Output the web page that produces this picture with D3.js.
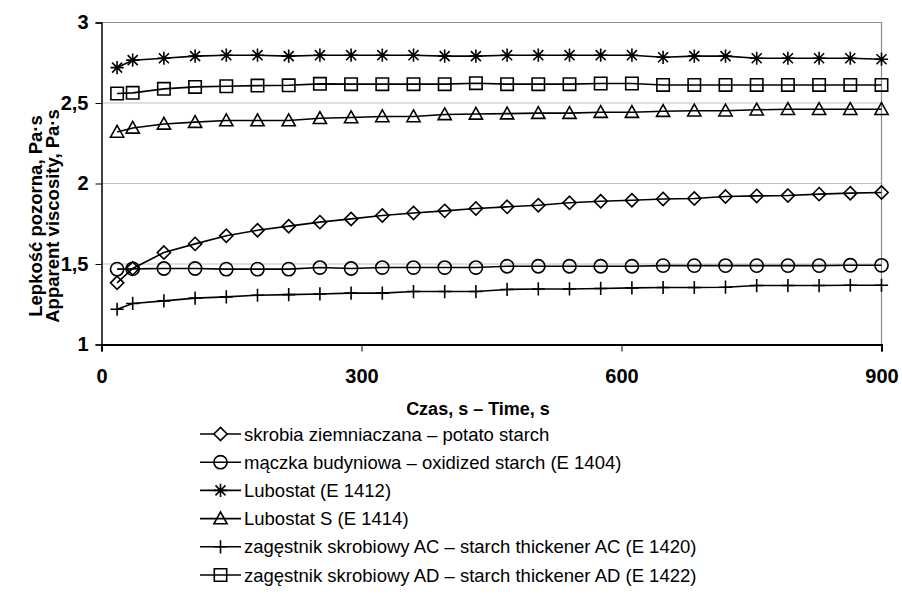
<!DOCTYPE html>
<html><head><meta charset="utf-8">
<script src="https://cdn.jsdelivr.net/npm/d3@7"></script>
<style>body{margin:0;background:#fff}svg{display:block}</style>
</head><body>
<svg id="chart" width="902" height="594"></svg>
<script>
const times = [18,36,72,108,144,180,216,252,288,324,360,396,432,468,504,540,576,612,648,684,720,756,792,828,864,900];
const potato = [1.383,1.472,1.571,1.625,1.675,1.710,1.735,1.760,1.780,1.801,1.817,1.830,1.845,1.855,1.865,1.880,1.890,1.896,1.904,1.907,1.919,1.923,1.925,1.934,1.940,1.944];
const oxidized = [1.468,1.470,1.472,1.472,1.468,1.468,1.468,1.478,1.472,1.478,1.478,1.478,1.478,1.486,1.486,1.486,1.486,1.486,1.490,1.490,1.490,1.490,1.490,1.490,1.492,1.492];
const lubostat = [2.720,2.766,2.778,2.791,2.797,2.797,2.791,2.797,2.797,2.797,2.797,2.791,2.791,2.797,2.797,2.797,2.797,2.797,2.784,2.791,2.791,2.778,2.778,2.778,2.778,2.772];
const lubostatS = [2.320,2.345,2.370,2.381,2.391,2.391,2.391,2.405,2.410,2.416,2.416,2.429,2.432,2.434,2.437,2.437,2.443,2.443,2.449,2.452,2.452,2.458,2.461,2.461,2.461,2.461];
const thickAC = [1.219,1.255,1.271,1.288,1.296,1.306,1.310,1.314,1.319,1.319,1.329,1.329,1.329,1.342,1.345,1.345,1.348,1.352,1.354,1.354,1.356,1.366,1.366,1.366,1.368,1.368];
const thickAD = [2.559,2.563,2.588,2.600,2.604,2.608,2.610,2.619,2.617,2.617,2.617,2.617,2.623,2.617,2.617,2.617,2.621,2.621,2.612,2.612,2.612,2.612,2.612,2.612,2.612,2.612];
const seriesNames = [
  "skrobia ziemniaczana – potato starch",
  "mączka budyniowa – oxidized starch (E 1404)",
  "Lubostat (E 1412)",
  "Lubostat S (E 1414)",
  "zagęstnik skrobiowy AC – starch thickener AC (E 1420)",
  "zagęstnik skrobiowy AD – starch thickener AD (E 1422)"
];
const seriesMarkers = ["diamond","circle","star","triangle","plus","square"];
const xTicks = [0,300,600,900];
const yTicks = [1,1.5,2,2.5,3];
const xTitle = "Czas, s – Time, s";
const yTitle1 = "Lepkość pozorna, Pa·s";
const yTitle2 = "Apparent viscosity, Pa·s";

const seriesValues = [potato, oxidized, lubostat, lubostatS, thickAC, thickAD];

const svg = d3.select("#chart");
const L = 101.5, R = 881.5, T = 22.5, B = 344.5;
const x = d3.scaleLinear().domain([0,900]).range([L,R]);
const y = d3.scaleLinear().domain([1,3]).range([B,T]);
const font = "Arial, 'Liberation Sans', sans-serif";

// gridlines
svg.append("g").selectAll("line").data(yTicks.filter(d=>d>1 && d<3)).join("line")
  .attr("x1",L).attr("x2",R).attr("y1",d=>y(d)).attr("y2",d=>y(d))
  .attr("stroke","#c0c0c0").attr("stroke-width",1);
// border top/right
svg.append("path").attr("d",`M${L},${T}H${R}V${B}`).attr("fill","none").attr("stroke","#8c8c8c").attr("stroke-width",1.2);

// y axis
const yAxis = svg.append("g").attr("transform",`translate(${L},0)`)
  .call(d3.axisLeft(y).tickValues(yTicks).tickSize(6).tickPadding(7).tickFormat(d=>String(d).replace(".",",")));
yAxis.select(".domain").attr("stroke","#000").attr("stroke-width",1.5);
yAxis.selectAll(".tick line").attr("stroke","#000").attr("stroke-width",1);
yAxis.selectAll("text").attr("font-family",font).attr("font-size",20).attr("font-weight","bold").attr("fill","#000");

// x axis
const xAxis = svg.append("g").attr("transform",`translate(0,${B})`)
  .call(d3.axisBottom(x).tickValues(xTicks).tickSize(7).tickPadding(17));
xAxis.select(".domain").attr("stroke","#000").attr("stroke-width",2);
xAxis.selectAll(".tick line").attr("stroke","#000").attr("stroke-width",1);
xAxis.selectAll("text").attr("font-family",font).attr("font-size",20).attr("font-weight","bold").attr("fill","#000");

// titles
svg.append("text").attr("x",478).attr("y",415).attr("text-anchor","middle")
  .attr("font-family",font).attr("font-size",18).attr("font-weight","bold").text(xTitle);
const yt = svg.append("g").attr("transform","translate(0,216) rotate(-90)");
yt.append("text").attr("x",0).attr("y",42).attr("text-anchor","middle")
  .attr("font-family",font).attr("font-size",18.5).attr("font-weight","bold").text(yTitle1);
yt.append("text").attr("x",0).attr("y",58.5).attr("text-anchor","middle")
  .attr("font-family",font).attr("font-size",18.5).attr("font-weight","bold").text(yTitle2);

function markerPath(type, cx, cy){
  const s = 6.6;
  switch(type){
    case "diamond": return `M${cx},${cy-s}L${cx+s},${cy}L${cx},${cy+s}L${cx-s},${cy}Z`;
    case "circle": return `M${cx+s},${cy}A${s},${s} 0 1,1 ${cx-s},${cy}A${s},${s} 0 1,1 ${cx+s},${cy}Z`;
    case "square": return `M${cx-s+0.4},${cy-s+0.4}H${cx+s-0.4}V${cy+s-0.4}H${cx-s+0.4}Z`;
    case "triangle": return `M${cx},${cy-s}L${cx+s},${cy+5.2}L${cx-s},${cy+5.2}Z`;
    case "plus": return `M${cx-s},${cy}H${cx+s}M${cx},${cy-s}V${cy+s}`;
    case "star": { const a=s*0.76; return `M${cx-s},${cy}H${cx+s}M${cx},${cy-s}V${cy+s}M${cx-a},${cy-a}L${cx+a},${cy+a}M${cx-a},${cy+a}L${cx+a},${cy-a}`; }
  }
}

const line = d3.line().x(d=>x(d[0])).y(d=>y(d[1]));
seriesValues.forEach((vals,i)=>{
  const pts = times.map((t,j)=>[t,vals[j]]);
  const g = svg.append("g");
  g.append("path").datum(pts).attr("d",line).attr("fill","none").attr("stroke","#000").attr("stroke-width",1.6);
  g.selectAll("path.m").data(pts).join("path").attr("class","m")
    .attr("d",d=>markerPath(seriesMarkers[i], x(d[0]), y(d[1])))
    .attr("fill","none").attr("stroke","#000").attr("stroke-width",1.6);
});

// legend
const lg = svg.append("g");
seriesNames.forEach((name,i)=>{
  const cy = 434 + i*28.2;
  lg.append("line").attr("x1",200).attr("x2",241).attr("y1",cy).attr("y2",cy).attr("stroke","#000").attr("stroke-width",1.6);
  lg.append("path").attr("d",markerPath(seriesMarkers[i],220.5,cy)).attr("fill",seriesMarkers[i]==="diamond"?"#fff":"none").attr("stroke","#000").attr("stroke-width",1.6);
  lg.append("text").attr("x",244).attr("y",cy+6.5).attr("font-family",font).attr("font-size",18.5).attr("fill","#000").text(name);
});
</script>
</body></html>
